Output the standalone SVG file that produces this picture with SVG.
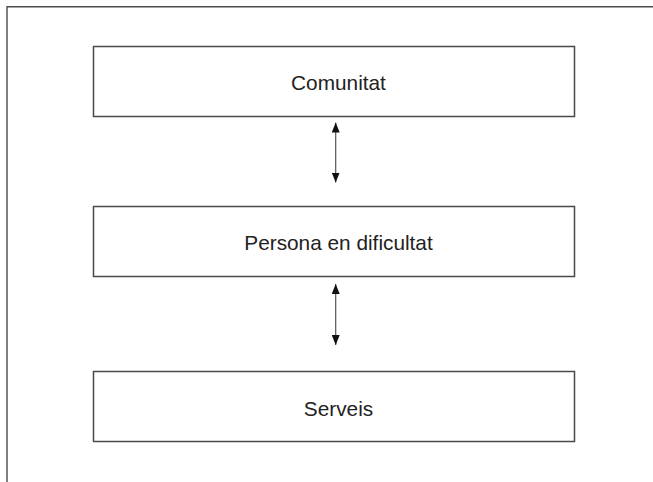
<svg xmlns="http://www.w3.org/2000/svg" width="653" height="482" viewBox="0 0 653 482">
  <style>
    .frame { fill: none; stroke: #4a4a4a; stroke-width: 1.4; }
    .box { fill: #ffffff; stroke: #4a4a4a; stroke-width: 1.5; }
    .label { font-family: "Liberation Sans", Arial, sans-serif; font-size: 20.8px; fill: #222222; text-anchor: middle; }
    .link { stroke: #555555; stroke-width: 1.2; fill: none; }
  </style>
  <defs>
    <marker id="head" viewBox="0 0 10 8" refX="10" refY="4" markerWidth="10" markerHeight="8" markerUnits="userSpaceOnUse" orient="auto-start-reverse">
      <path d="M0,0 L10,4 L0,8 Z" fill="#111111"/>
    </marker>
  </defs>
  <rect width="653" height="482" fill="#ffffff"/>
  <!-- open frame: top and left edges only -->
  <path class="frame" d="M7,482 V6.7 H653"/>

  <g id="comunitat">
    <rect class="box" x="93.5" y="46.5" width="481" height="70"/>
    <text class="label" x="338.5" y="90">Comunitat</text>
  </g>
  <g id="persona">
    <rect class="box" x="93.5" y="206.5" width="481" height="70"/>
    <text class="label" x="338.5" y="250">Persona en dificultat</text>
  </g>
  <g id="serveis">
    <rect class="box" x="93.5" y="371.5" width="481" height="70"/>
    <text class="label" x="338.5" y="415.5">Serveis</text>
  </g>

  <g id="connectors">
    <line class="link" x1="335.7" y1="122.5" x2="335.7" y2="182.5" marker-start="url(#head)" marker-end="url(#head)"/>
    <line class="link" x1="335.7" y1="284" x2="335.7" y2="345" marker-start="url(#head)" marker-end="url(#head)"/>
  </g>
</svg>
